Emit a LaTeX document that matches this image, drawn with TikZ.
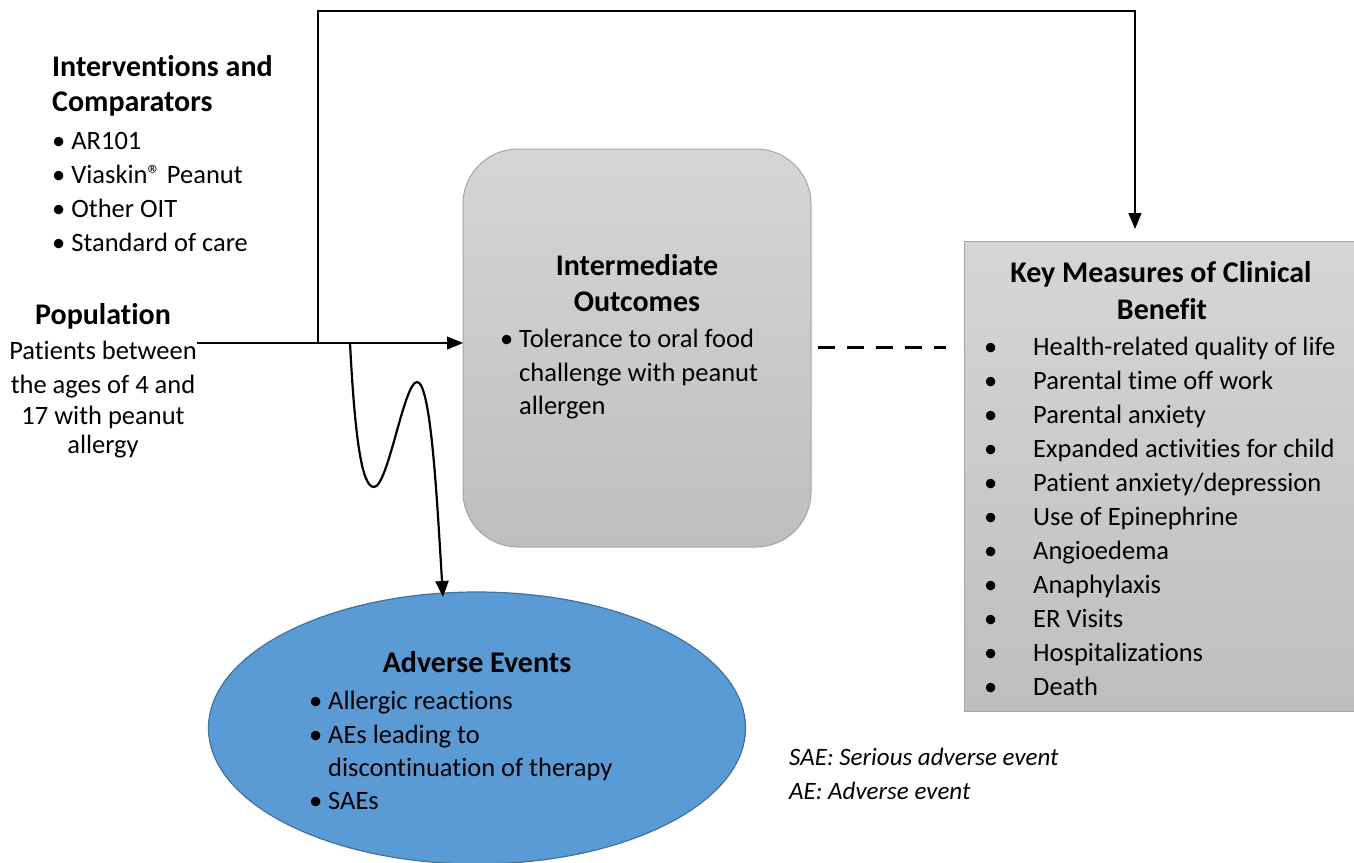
\documentclass[tikz,border=0pt]{standalone}
\usepackage{fontspec}
\setmainfont[Ligatures=NoCommon]{Carlito}
\usetikzlibrary{arrows.meta,shapes.geometric}
\definecolor{boxtop}{HTML}{D6D6D6}
\definecolor{boxbot}{HTML}{BEBEBE}
\definecolor{boxline}{HTML}{A5A5A5}
\definecolor{aefill}{HTML}{5B9BD5}
\definecolor{aeline}{HTML}{41719C}
\tikzset{
  txt/.style={inner sep=0pt,font=\fontsize{26.5}{32}\selectfont},
  hd/.style={inner sep=0pt,font=\fontsize{30}{36}\selectfont\bfseries},
  note/.style={inner sep=0pt,font=\fontsize{25}{30}\selectfont\itshape},
  arr/.style={line width=1.2pt,-{Triangle[length=16pt,width=13pt]}},
}
\begin{document}
\begin{tikzpicture}[x=1pt,y=-1pt]
\useasboundingbox (0,0) rectangle (1354,862);
% shapes
\node[draw=boxline,line width=1pt,rounded corners=55pt,top color=boxtop,bottom color=boxbot,
  minimum width=348pt,minimum height=398pt,inner sep=0pt] (io) at (637,348) {};
\node[draw=boxline,line width=1pt,top color=boxtop,bottom color=boxbot,
  minimum width=392pt,minimum height=470pt,inner sep=0pt] (km) at (1160,476) {};
\node[ellipse,draw=aeline,line width=1.2pt,fill=aefill,
  minimum width=537pt,minimum height=272pt,inner sep=0pt] (ae) at (477,728) {};
% left texts
\node[hd,anchor=base west] (ic1) at (52,76) {Interventions and};
\node[hd,anchor=base west] (ic2) at (52,111) {Comparators};
\node[txt,anchor=base west] (b1) at (52,149) {• AR101};
\node[txt,anchor=base west] (b2) at (52,183) {• Viaskin® Peanut};
\node[txt,anchor=base west] (b3) at (52,217) {• Other OIT};
\node[txt,anchor=base west] (b4) at (52,251) {• Standard of care};
\node[hd,anchor=base] (pop) at (103,324) {Population};
\node[txt,anchor=base] (p1) at (103,359) {Patients between};
\node[txt,anchor=base] (p2) at (103,393) {the ages of 4 and};
\node[txt,anchor=base] (p3) at (103,424) {17 with peanut};
\node[txt,anchor=base] (p4) at (103,453) {allergy};
% center texts
\node[hd,anchor=base] (io1) at (637,275) {Intermediate};
\node[hd,anchor=base] (io2) at (637,311) {Outcomes};
\node[txt,anchor=base west] (io3) at (500,347) {•};
\node[txt,anchor=base west] (io4) at (519,347) {Tolerance to oral food};
\node[txt,anchor=base west] (io5) at (519,381) {challenge with peanut};
\node[txt,anchor=base west] (io6) at (519,414) {allergen};
% right texts
\node[hd,anchor=base] (km1) at (1161,282) {Key Measures of Clinical};
\node[hd,anchor=base] (km2) at (1162,319) {Benefit};
\foreach \t [count=\i from 0] in {Health-related quality of life,Parental time off work,Parental anxiety,Expanded activities for child,Patient anxiety/depression,Use of Epinephrine,Angioedema,Anaphylaxis,ER Visits,Hospitalizations,Death}{
  \node[txt,anchor=base west] (kb\i) at (984,355+34*\i) {•};
  \node[txt,anchor=base west] (kt\i) at (1033,355+34*\i) {\t};
}
% ellipse texts
\node[hd,anchor=base] (ae0) at (477,672) {Adverse Events};
\node[txt,anchor=base west] (ae1) at (309,709) {•};
\node[txt,anchor=base west] (ae1t) at (328,709) {Allergic reactions};
\node[txt,anchor=base west] (ae2) at (309,743) {•};
\node[txt,anchor=base west] (ae2t) at (328,743) {AEs leading to};
\node[txt,anchor=base west] (ae3) at (328,776) {discontinuation of therapy};
\node[txt,anchor=base west] (ae4) at (309,809) {•};
\node[txt,anchor=base west] (ae4t) at (328,809) {SAEs};
% notes
\node[note,anchor=base west] (n1) at (789,765) {SAE: Serious adverse event};
\node[note,anchor=base west] (n2) at (789,799) {AE: Adverse event};
% connectors
\coordinate (ps) at (197,343);
\coordinate (pe) at (463,343);
\coordinate (jn) at (318,343);
\coordinate (c1) at (318,11);
\coordinate (c2) at (1135,11);
\coordinate (kt) at (1135,229);
\coordinate (ds) at (818,347);
\coordinate (de) at (946,347);
\coordinate (wv) at (350,343);
\coordinate (at) at (443,597);
\draw[arr] (ps) -- (pe);
\draw[arr] (jn) -- (c1) -- (c2) -- (kt);
\draw[line width=3pt,dash pattern=on 17pt off 12pt] (ds) -- (de);
\draw[line width=2.2pt,-{Triangle[length=16pt,width=13pt]}] (wv) .. controls (355,440) and (362,487) .. (374,487)
  .. controls (388,487) and (404,382) .. (417,382)
  .. controls (431,382) and (437,500) .. (at);
\end{tikzpicture}
\end{document}
